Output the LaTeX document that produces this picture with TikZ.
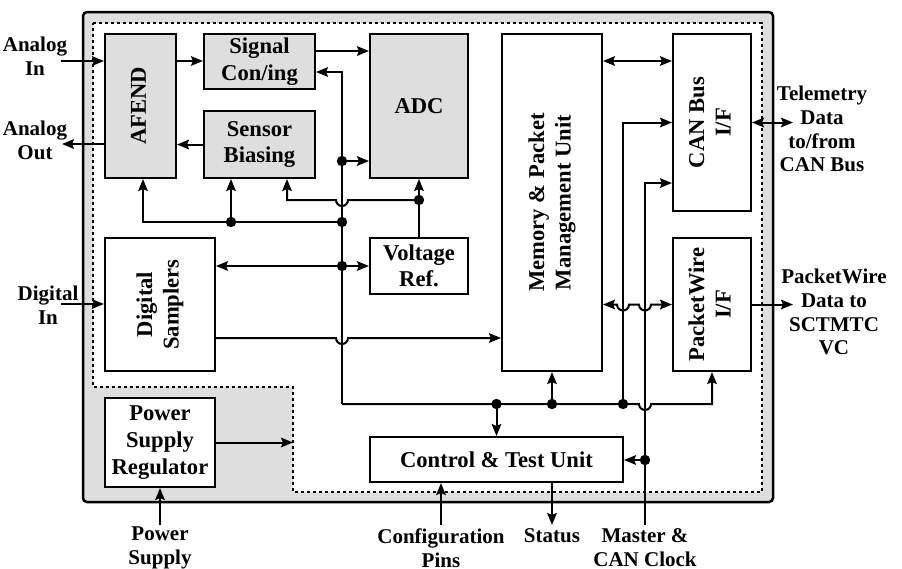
\documentclass[tikz,border=0pt]{standalone}
\usepackage{fontspec}
\setmainfont{Liberation Serif}
\usepackage{graphicx}
\usetikzlibrary{arrows.meta}
\definecolor{boxgray}{gray}{0.87}
\newcommand{\fsin}{\fontsize{11.3}{13.3}\selectfont\bfseries}
\newcommand{\fsout}{\fontsize{10.5}{11.9}\selectfont\bfseries}
\newcommand{\rotlabel}[1]{\rotatebox{90}{\begin{tabular}{@{}c@{}}#1\end{tabular}}}
\tikzset{
  blk/.style={draw, fill=white, line width=1pt, inner sep=0pt, align=center, font=\fsin},
  gblk/.style={blk, fill=boxgray},
  lbl/.style={inner sep=0pt, align=center, font=\fsout},
  wire/.style={line width=1pt},
}
\begin{document}
\begin{tikzpicture}[x=0.5pt, y=-0.5pt, >={Stealth[length=6pt,width=4.8pt,inset=1pt]}]
  \useasboundingbox (0,0) rectangle (902,569);
  % frame and digital core region
  \draw[line width=1.25pt, fill=boxgray, rounded corners=2pt] (83,12) rectangle (773,502);
  \draw[line width=0.8pt, dash pattern=on 1.6pt off 1.4pt, fill=white]
    (93,23) -- (762,23) -- (762,492) -- (293,492) -- (293,387) -- (93,387) -- cycle;
  % blocks
  \node[gblk, minimum width=35.5pt, minimum height=72pt] (afend) at (140.5,106) {\rotlabel{AFEND}};
  \node[gblk, minimum width=55.5pt, minimum height=27.5pt] (sigc) at (259.5,61.5) {Signal\\Con/ing};
  \node[gblk, minimum width=55.5pt, minimum height=33.5pt] (sbias) at (259.5,144.5) {Sensor\\Biasing};
  \node[gblk, minimum width=49pt, minimum height=72pt] (adc) at (419,106) {ADC};
  \node[blk, minimum width=50pt, minimum height=168.5pt] (mem) at (552,202.5) {\rotlabel{Memory \& Packet\\Management Unit}};
  \node[blk, minimum width=39pt, minimum height=88.5pt] (canif) at (712,122.5) {\rotlabel{CAN Bus\\I/F}};
  \node[blk, minimum width=39pt, minimum height=66.5pt] (pwif) at (712,304.5) {\rotlabel{PacketWire\\I/F}};
  \node[blk, minimum width=55pt, minimum height=66.5pt] (dsamp) at (160,304.5) {\rotlabel{Digital\\Samplers}};
  \node[blk, minimum width=49pt, minimum height=28pt] (vref) at (419,266) {Voltage\\Ref.};
  \node[blk, minimum width=55pt, minimum height=44.5pt] (psr) at (160,442.5) {Power\\Supply\\Regulator};
  \node[blk, minimum width=126.5pt, minimum height=22.5pt] (ctu) at (496.5,459.5) {Control \& Test Unit};
  % outside labels
  \node[lbl] (ain-t) at (35,56) {Analog\\In};
  \node[lbl] (aout-t) at (35,140) {Analog\\Out};
  \node[lbl] (din-t) at (48,305) {Digital\\In};
  \node[lbl] (tlm-t) at (822,129) {Telemetry\\Data\\to/from\\CAN Bus};
  \node[lbl] (pw-t) at (834,312) {PacketWire\\Data to\\SCTMTC\\VC};
  \node[lbl] (ps-t) at (160,548) {Power\\Supply};
  \node[lbl] (cfg-t) at (441,548) {Configuration\\Pins};
  \node[lbl] (st-t) at (552,536) {Status};
  \node[lbl] (clk-t) at (645,548) {Master \&\\CAN Clock};
  % junctions and free ends
  \coordinate (bl) at (342,404);
  \coordinate (j1) at (342,161);
  \coordinate (j2) at (342,222);
  \coordinate (j3) at (231,222);
  \coordinate (j4) at (342,266);
  \coordinate (j5) at (419,200);
  \coordinate (j6) at (496.5,404);
  \coordinate (j7) at (552,404);
  \coordinate (j8) at (623,404);
  \coordinate (j9) at (645,460);
  \coordinate (clk) at (645,525);
  \coordinate (ain) at (61,61);
  \coordinate (aout) at (62,144);
  \coordinate (din) at (61,304);
  \coordinate (tlm) at (793,122.5);
  \coordinate (pwo) at (793,304.5);
  \coordinate (psin) at (160,525);
  \coordinate (cfg) at (441,525);
  \coordinate (stat) at (552,525);
  % analog side
  \draw[wire,->] (ain) -- (ain -| afend.west);
  \draw[wire,->] (afend.west |- aout) -- (aout);
  \draw[wire,->] (afend.east |- ain) -- (sigc.west |- ain);
  \draw[wire,->] (sbias.west) -- (sbias.west -| afend.east);
  \draw[wire,->] (sigc.east |- 0,51) -- (adc.west |- 0,51);
  \draw[wire,->] (bl) |- (sigc.east |- 0,72);
  \draw[wire,->] (j1) -- (j1 -| adc.west);
  \draw[wire,->] (j2) -| ([xshift=1.25pt]afend.south);
  \draw[wire,->] (j3) -- (j3 |- sbias.south);
  \draw[wire,->] (vref.north) -- (adc.south);
  \draw[wire,->] (j5) -- (348,200) arc[start angle=0, end angle=-180, radius=3pt] -| ([xshift=13.75pt]sbias.south);
  \draw[wire,<->] (dsamp.east |- vref.west) -- (vref.west);
  \draw[wire,->] (dsamp.east |- 0,338) -- (336,338) arc[start angle=180, end angle=360, radius=3pt] -- (mem.west |- 0,338);
  \draw[wire,->] (din) -- (din -| dsamp.west);
  % digital side
  \draw[wire,<->] (mem.east |- 0,61) -- (canif.west |- 0,61);
  \draw[wire,<->] (canif.east) -- (tlm);
  \draw[wire,->] (pwif.east) -- (pwo);
  \draw[wire,->] (bl) -- (639,404) arc[start angle=180, end angle=360, radius=3pt] -| (pwif.south);
  \draw[wire,->] (j6) -- (ctu.north);
  \draw[wire,->] (j7) -- (mem.south);
  \draw[wire,->] (j8) |- (canif.west);
  \draw[wire,<->] (mem.east |- pwif.west) -- (617,304.5) arc[start angle=180, end angle=360, radius=3pt]
    -- (639,304.5) arc[start angle=180, end angle=360, radius=3pt] -- (pwif.west);
  \draw[wire,->] (clk) |- (canif.west |- 0,183);
  \draw[wire,->] (j9) -- (ctu.east |- j9);
  % control and power
  \draw[wire,->] (cfg) -- (cfg |- ctu.south);
  \draw[wire,->] (ctu.south -| stat) -- (stat);
  \draw[wire,->] (psin) -- (psr.south);
  \draw[wire,->] (psr.east) -- (293,442.5);
  \foreach \p in {j1,j2,j3,j4,j5,j6,j7,j8,j9}
    \fill (\p) circle (2.6pt);
\end{tikzpicture}
\end{document}
